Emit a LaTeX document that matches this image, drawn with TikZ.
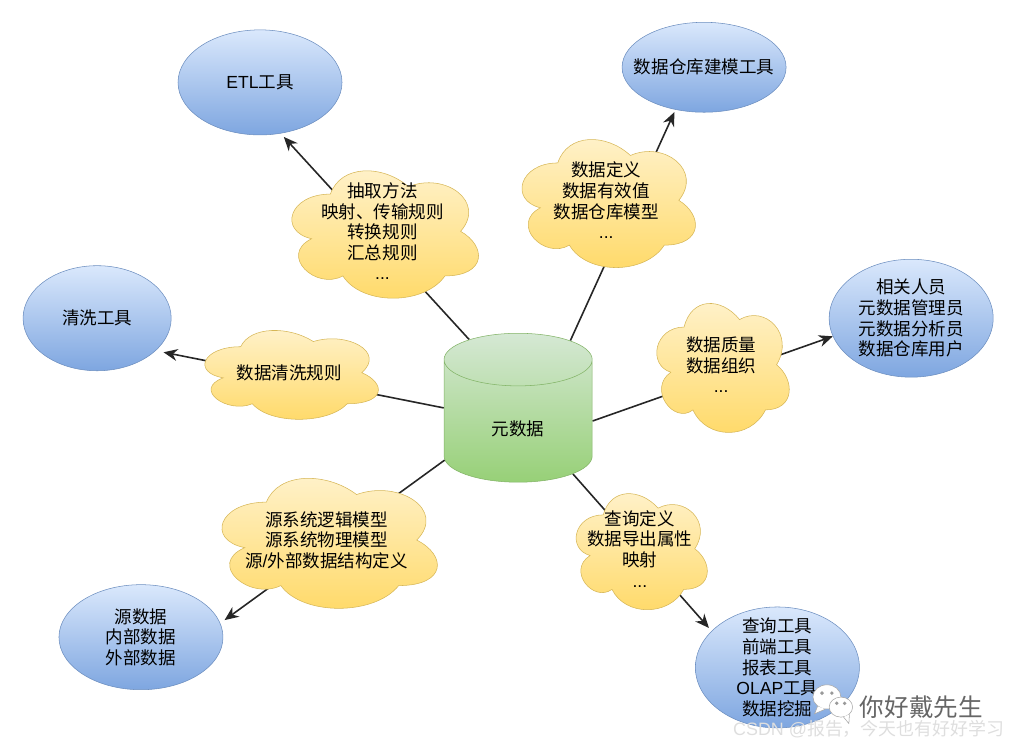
\documentclass[tikz,border=0pt]{standalone}
\usepackage{fontspec}
\setmainfont{Noto Sans CJK SC}
\newfontfamily\latinfont{Liberation Sans}
\usepackage{tikz}
\usetikzlibrary{shapes.geometric, arrows.meta, positioning, backgrounds}

\makeatletter
\newdimen\puffx \newdimen\puffy \newdimen\puffw \newdimen\puffh
\def\puffpt#1#2{\pgfpoint{\puffx+#1*\puffw}{\puffy-#2*\puffh}}
\pgfdeclareshape{puff}{
  \inheritsavedanchors[from=rectangle]
  \inheritanchorborder[from=rectangle]
  \inheritanchor[from=rectangle]{center}
  \backgroundpath{
    \southwest \puffx=\pgf@x \puffh=\pgf@y
    \northeast \puffw=\pgf@x \puffy=\pgf@y
    \advance\puffw by-\puffx
    \advance\puffh by-\puffy \puffh=-\puffh
    \pgfpathmoveto{\puffpt{.25}{.25}}
    \pgfpathcurveto{\puffpt{.05}{.25}}{\puffpt{0}{.5}}{\puffpt{.16}{.55}}
    \pgfpathcurveto{\puffpt{0}{.66}}{\puffpt{.18}{.9}}{\puffpt{.31}{.8}}
    \pgfpathcurveto{\puffpt{.4}{1}}{\puffpt{.7}{1}}{\puffpt{.8}{.8}}
    \pgfpathcurveto{\puffpt{1}{.8}}{\puffpt{1}{.6}}{\puffpt{.875}{.5}}
    \pgfpathcurveto{\puffpt{1}{.3}}{\puffpt{.8}{.1}}{\puffpt{.625}{.2}}
    \pgfpathcurveto{\puffpt{.5}{.05}}{\puffpt{.3}{.05}}{\puffpt{.25}{.25}}
    \pgfpathclose
  }
}
\makeatother

\begin{document}
\begin{tikzpicture}[
    on grid,
    font=\fontsize{13.2}{15.5}\selectfont,
    tool/.style={ellipse, inner sep=0pt, inner xsep=-10pt, inner ysep=-10pt, align=center, draw={rgb,255:red,108;green,142;blue,191}, top color={rgb,255:red,218;green,232;blue,252}, bottom color={rgb,255:red,126;green,166;blue,224}},
    info/.style={puff, inner sep=0pt, align=center, draw={rgb,255:red,214;green,182;blue,86}, top color={rgb,255:red,255;green,242;blue,204}, bottom color={rgb,255:red,255;green,217;blue,102}},
    store/.style={cylinder, shape border rotate=90, aspect=1.0, inner sep=0pt, draw={rgb,255:red,130;green,179;blue,102}, top color={rgb,255:red,213;green,232;blue,212}, bottom color={rgb,255:red,151;green,208;blue,119}},
    arrow/.style={line width=1.2pt, black!85, -{Stealth[length=10.5pt, width=9pt]}},
    wmtext/.style={black!60},
    wmbubble/.style={ellipse, fill=white, draw=black!35, inner sep=0pt},
]

    \useasboundingbox (0,0) rectangle (26.91,-19.79);

    % metadata store
    \node (meta) [store, minimum width=3.92cm, minimum height=3.94cm] at (13.71,-11.14)
      {\raisebox{-6pt}[\height][\depth]{元数据}};

    % clouds around the store
    \node (etl_rule) [info, minimum width=5.50cm, minimum height=3.92cm, above left=5.02cm and 3.59cm of meta]
      {抽取方法\\映射、传输规则\\转换规则\\汇总规则\\{\latinfont ...}};
    \node (model_def) [info, minimum width=5.11cm, minimum height=3.94cm, above right=5.84cm and 2.33cm of meta]
      {数据定义\\数据有效值\\数据仓库模型\\{\latinfont ...}};
    \node (clean_rule) [info, minimum width=5.11cm, minimum height=2.73cm, above left=1.28cm and 6.06cm of meta]
      {数据清洗规则};
    \node (quality) [info, minimum width=3.90cm, minimum height=3.97cm, above right=1.49cm and 5.37cm of meta]
      {数据质量\\数据组织\\{\latinfont ...}};
    \node (src_model) [info, minimum width=6.35cm, minimum height=4.00cm, below left=3.15cm and 5.07cm of meta]
      {源系统逻辑模型\\源系统物理模型\\源{\latinfont /}外部数据结构定义};
    \node (query_def) [info, minimum width=3.86cm, minimum height=3.57cm, below right=3.38cm and 3.22cm of meta]
      {查询定义\\数据导出属性\\映射\\{\latinfont ...}};

    % tools and users
    \node (etl_tool) [tool, minimum width=4.34cm, minimum height=2.78cm, above left=3.94cm and 3.24cm of etl_rule]
      {{\latinfont ETL}工具};
    \node (model_tool) [tool, minimum width=4.34cm, minimum height=2.38cm, above right=3.52cm and 2.59cm of model_def]
      {数据仓库建模工具};
    \node (clean_tool) [tool, minimum width=3.92cm, minimum height=2.78cm, above left=1.44cm and 5.08cm of clean_rule]
      {清洗工具};
    \node (people) [tool, minimum width=4.34cm, minimum height=3.12cm, above right=1.23cm and 5.03cm of quality]
      {相关人员\\元数据管理员\\元数据分析员\\数据仓库用户};
    \node (src_data) [tool, minimum width=4.34cm, minimum height=2.78cm, below left=2.57cm and 4.91cm of src_model]
      {源数据\\内部数据\\外部数据};
    \node (query_tool) [tool, minimum width=4.34cm, minimum height=3.20cm, below right=3.14cm and 3.64cm of query_def]
      {查询工具\\前端工具\\报表工具\\{\latinfont OLAP}工具\\数据挖掘};

    % connectors run behind the clouds
    \begin{scope}[on background layer]
    \draw [arrow, shorten >=3.5pt] (meta.121.7) -- (etl_tool.-68.8);
    \draw [arrow, shorten >=2pt] (meta.57) -- (model_tool.-124.3);
    \draw [arrow, shorten >=6pt] (meta.170) -- (clean_tool.-29.2);
    \draw [arrow] (meta.-0.8) -- (people.193);
    \draw [arrow, shorten >=4pt] (meta.208.7) -- (src_data.10.8);
    \draw [arrow, shorten >=3pt] (meta.-44.5) -- (query_tool.151.1);
    \end{scope}

    % watermark
    \node (wm_big) [wmbubble, minimum width=0.74cm, minimum height=0.64cm] at (21.88,-18.44) {};
    \path [fill=white, draw=black!35] (wm_big.225) -- ++(-0.08,-0.2) -- (wm_big.262);
    \fill [black!40] (wm_big) ++(-0.13,0.1) circle (0.05) ++(0.26,0) circle (0.05);
    \node (wm_small) [wmbubble, minimum width=0.62cm, minimum height=0.53cm] at (22.25,-18.71) {};
    \path [fill=white, draw=black!35] (wm_small.-75) -- ++(0.14,-0.17) -- (wm_small.-40);
    \fill [black!40] (wm_small) ++(-0.11,0.1) circle (0.05) ++(0.21,0) circle (0.05);
    \node (wm_name) [wmtext, font=\fontsize{18.5}{20}\selectfont, right=2.13cm of wm_small] {你好戴先生};
    \node (wm_site) [black!13, anchor=east, font=\fontsize{13.5}{16}\selectfont] at (26.7,-19.29) {{\latinfont CSDN @}报告，今天也有好好学习};

\end{tikzpicture}
\end{document}
